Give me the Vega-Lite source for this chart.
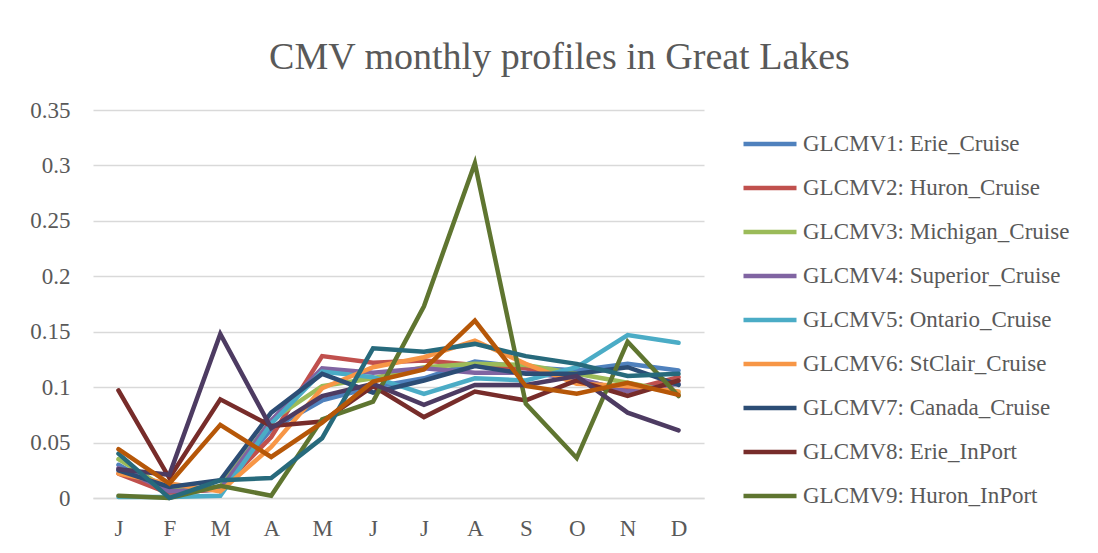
{
  "$schema": "https://vega.github.io/schema/vega-lite/v6.json",
  "width": 611,
  "height": 388,
  "autosize": {"type": "none"},
  "padding": {"left": 93, "top": 110, "right": 394, "bottom": 55},
  "background": "white",
  "title": {
    "text": "CMV monthly profiles in Great Lakes",
    "font": "Liberation Serif",
    "fontSize": 38,
    "fontWeight": "normal",
    "color": "#595959",
    "anchor": "middle",
    "dx": 161,
    "offset": 22
  },
  "data": {
    "values": [
      {"s": "GLCMV1: Erie_Cruise", "m": "Jan", "v": 0.030}, {"s": "GLCMV1: Erie_Cruise", "m": "Feb", "v": 0.004}, {"s": "GLCMV1: Erie_Cruise", "m": "Mar", "v": 0.008}, {"s": "GLCMV1: Erie_Cruise", "m": "Apr", "v": 0.062}, {"s": "GLCMV1: Erie_Cruise", "m": "May", "v": 0.088}, {"s": "GLCMV1: Erie_Cruise", "m": "Jun", "v": 0.100}, {"s": "GLCMV1: Erie_Cruise", "m": "Jul", "v": 0.108}, {"s": "GLCMV1: Erie_Cruise", "m": "Aug", "v": 0.123}, {"s": "GLCMV1: Erie_Cruise", "m": "Sep", "v": 0.118}, {"s": "GLCMV1: Erie_Cruise", "m": "Oct", "v": 0.115}, {"s": "GLCMV1: Erie_Cruise", "m": "Nov", "v": 0.121}, {"s": "GLCMV1: Erie_Cruise", "m": "Dec", "v": 0.115},
      {"s": "GLCMV2: Huron_Cruise", "m": "Jan", "v": 0.022}, {"s": "GLCMV2: Huron_Cruise", "m": "Feb", "v": 0.004}, {"s": "GLCMV2: Huron_Cruise", "m": "Mar", "v": 0.008}, {"s": "GLCMV2: Huron_Cruise", "m": "Apr", "v": 0.055}, {"s": "GLCMV2: Huron_Cruise", "m": "May", "v": 0.128}, {"s": "GLCMV2: Huron_Cruise", "m": "Jun", "v": 0.122}, {"s": "GLCMV2: Huron_Cruise", "m": "Jul", "v": 0.124}, {"s": "GLCMV2: Huron_Cruise", "m": "Aug", "v": 0.120}, {"s": "GLCMV2: Huron_Cruise", "m": "Sep", "v": 0.117}, {"s": "GLCMV2: Huron_Cruise", "m": "Oct", "v": 0.107}, {"s": "GLCMV2: Huron_Cruise", "m": "Nov", "v": 0.097}, {"s": "GLCMV2: Huron_Cruise", "m": "Dec", "v": 0.109},
      {"s": "GLCMV3: Michigan_Cruise", "m": "Jan", "v": 0.035}, {"s": "GLCMV3: Michigan_Cruise", "m": "Feb", "v": 0.007}, {"s": "GLCMV3: Michigan_Cruise", "m": "Mar", "v": 0.010}, {"s": "GLCMV3: Michigan_Cruise", "m": "Apr", "v": 0.070}, {"s": "GLCMV3: Michigan_Cruise", "m": "May", "v": 0.101}, {"s": "GLCMV3: Michigan_Cruise", "m": "Jun", "v": 0.108}, {"s": "GLCMV3: Michigan_Cruise", "m": "Jul", "v": 0.118}, {"s": "GLCMV3: Michigan_Cruise", "m": "Aug", "v": 0.121}, {"s": "GLCMV3: Michigan_Cruise", "m": "Sep", "v": 0.120}, {"s": "GLCMV3: Michigan_Cruise", "m": "Oct", "v": 0.112}, {"s": "GLCMV3: Michigan_Cruise", "m": "Nov", "v": 0.104}, {"s": "GLCMV3: Michigan_Cruise", "m": "Dec", "v": 0.095},
      {"s": "GLCMV4: Superior_Cruise", "m": "Jan", "v": 0.027}, {"s": "GLCMV4: Superior_Cruise", "m": "Feb", "v": 0.006}, {"s": "GLCMV4: Superior_Cruise", "m": "Mar", "v": 0.008}, {"s": "GLCMV4: Superior_Cruise", "m": "Apr", "v": 0.070}, {"s": "GLCMV4: Superior_Cruise", "m": "May", "v": 0.117}, {"s": "GLCMV4: Superior_Cruise", "m": "Jun", "v": 0.113}, {"s": "GLCMV4: Superior_Cruise", "m": "Jul", "v": 0.117}, {"s": "GLCMV4: Superior_Cruise", "m": "Aug", "v": 0.113}, {"s": "GLCMV4: Superior_Cruise", "m": "Sep", "v": 0.113}, {"s": "GLCMV4: Superior_Cruise", "m": "Oct", "v": 0.108}, {"s": "GLCMV4: Superior_Cruise", "m": "Nov", "v": 0.096}, {"s": "GLCMV4: Superior_Cruise", "m": "Dec", "v": 0.103},
      {"s": "GLCMV5: Ontario_Cruise", "m": "Jan", "v": 0.001}, {"s": "GLCMV5: Ontario_Cruise", "m": "Feb", "v": 0.001}, {"s": "GLCMV5: Ontario_Cruise", "m": "Mar", "v": 0.002}, {"s": "GLCMV5: Ontario_Cruise", "m": "Apr", "v": 0.067}, {"s": "GLCMV5: Ontario_Cruise", "m": "May", "v": 0.114}, {"s": "GLCMV5: Ontario_Cruise", "m": "Jun", "v": 0.109}, {"s": "GLCMV5: Ontario_Cruise", "m": "Jul", "v": 0.094}, {"s": "GLCMV5: Ontario_Cruise", "m": "Aug", "v": 0.108}, {"s": "GLCMV5: Ontario_Cruise", "m": "Sep", "v": 0.106}, {"s": "GLCMV5: Ontario_Cruise", "m": "Oct", "v": 0.118}, {"s": "GLCMV5: Ontario_Cruise", "m": "Nov", "v": 0.147}, {"s": "GLCMV5: Ontario_Cruise", "m": "Dec", "v": 0.140},
      {"s": "GLCMV6: StClair_Cruise", "m": "Jan", "v": 0.022}, {"s": "GLCMV6: StClair_Cruise", "m": "Feb", "v": 0.013}, {"s": "GLCMV6: StClair_Cruise", "m": "Mar", "v": 0.006}, {"s": "GLCMV6: StClair_Cruise", "m": "Apr", "v": 0.046}, {"s": "GLCMV6: StClair_Cruise", "m": "May", "v": 0.099}, {"s": "GLCMV6: StClair_Cruise", "m": "Jun", "v": 0.118}, {"s": "GLCMV6: StClair_Cruise", "m": "Jul", "v": 0.127}, {"s": "GLCMV6: StClair_Cruise", "m": "Aug", "v": 0.142}, {"s": "GLCMV6: StClair_Cruise", "m": "Sep", "v": 0.121}, {"s": "GLCMV6: StClair_Cruise", "m": "Oct", "v": 0.103}, {"s": "GLCMV6: StClair_Cruise", "m": "Nov", "v": 0.101}, {"s": "GLCMV6: StClair_Cruise", "m": "Dec", "v": 0.096},
      {"s": "GLCMV7: Canada_Cruise", "m": "Jan", "v": 0.025}, {"s": "GLCMV7: Canada_Cruise", "m": "Feb", "v": 0.010}, {"s": "GLCMV7: Canada_Cruise", "m": "Mar", "v": 0.016}, {"s": "GLCMV7: Canada_Cruise", "m": "Apr", "v": 0.077}, {"s": "GLCMV7: Canada_Cruise", "m": "May", "v": 0.112}, {"s": "GLCMV7: Canada_Cruise", "m": "Jun", "v": 0.095}, {"s": "GLCMV7: Canada_Cruise", "m": "Jul", "v": 0.106}, {"s": "GLCMV7: Canada_Cruise", "m": "Aug", "v": 0.119}, {"s": "GLCMV7: Canada_Cruise", "m": "Sep", "v": 0.112}, {"s": "GLCMV7: Canada_Cruise", "m": "Oct", "v": 0.112}, {"s": "GLCMV7: Canada_Cruise", "m": "Nov", "v": 0.118}, {"s": "GLCMV7: Canada_Cruise", "m": "Dec", "v": 0.102},
      {"s": "GLCMV8: Erie_InPort", "m": "Jan", "v": 0.097}, {"s": "GLCMV8: Erie_InPort", "m": "Feb", "v": 0.018}, {"s": "GLCMV8: Erie_InPort", "m": "Mar", "v": 0.089}, {"s": "GLCMV8: Erie_InPort", "m": "Apr", "v": 0.065}, {"s": "GLCMV8: Erie_InPort", "m": "May", "v": 0.069}, {"s": "GLCMV8: Erie_InPort", "m": "Jun", "v": 0.101}, {"s": "GLCMV8: Erie_InPort", "m": "Jul", "v": 0.073}, {"s": "GLCMV8: Erie_InPort", "m": "Aug", "v": 0.096}, {"s": "GLCMV8: Erie_InPort", "m": "Sep", "v": 0.088}, {"s": "GLCMV8: Erie_InPort", "m": "Oct", "v": 0.106}, {"s": "GLCMV8: Erie_InPort", "m": "Nov", "v": 0.092}, {"s": "GLCMV8: Erie_InPort", "m": "Dec", "v": 0.106},
      {"s": "GLCMV9: Huron_InPort", "m": "Jan", "v": 0.002}, {"s": "GLCMV9: Huron_InPort", "m": "Feb", "v": 0.000}, {"s": "GLCMV9: Huron_InPort", "m": "Mar", "v": 0.011}, {"s": "GLCMV9: Huron_InPort", "m": "Apr", "v": 0.002}, {"s": "GLCMV9: Huron_InPort", "m": "May", "v": 0.071}, {"s": "GLCMV9: Huron_InPort", "m": "Jun", "v": 0.087}, {"s": "GLCMV9: Huron_InPort", "m": "Jul", "v": 0.173}, {"s": "GLCMV9: Huron_InPort", "m": "Aug", "v": 0.302}, {"s": "GLCMV9: Huron_InPort", "m": "Sep", "v": 0.085}, {"s": "GLCMV9: Huron_InPort", "m": "Oct", "v": 0.036}, {"s": "GLCMV9: Huron_InPort", "m": "Nov", "v": 0.141}, {"s": "GLCMV9: Huron_InPort", "m": "Dec", "v": 0.092},
      {"s": "GLCMV10: Michigan_InPort", "m": "Jan", "v": 0.026}, {"s": "GLCMV10: Michigan_InPort", "m": "Feb", "v": 0.021}, {"s": "GLCMV10: Michigan_InPort", "m": "Mar", "v": 0.148}, {"s": "GLCMV10: Michigan_InPort", "m": "Apr", "v": 0.063}, {"s": "GLCMV10: Michigan_InPort", "m": "May", "v": 0.092}, {"s": "GLCMV10: Michigan_InPort", "m": "Jun", "v": 0.103}, {"s": "GLCMV10: Michigan_InPort", "m": "Jul", "v": 0.084}, {"s": "GLCMV10: Michigan_InPort", "m": "Aug", "v": 0.102}, {"s": "GLCMV10: Michigan_InPort", "m": "Sep", "v": 0.102}, {"s": "GLCMV10: Michigan_InPort", "m": "Oct", "v": 0.110}, {"s": "GLCMV10: Michigan_InPort", "m": "Nov", "v": 0.077}, {"s": "GLCMV10: Michigan_InPort", "m": "Dec", "v": 0.061},
      {"s": "GLCMV11: Superior_InPort", "m": "Jan", "v": 0.040}, {"s": "GLCMV11: Superior_InPort", "m": "Feb", "v": 0.000}, {"s": "GLCMV11: Superior_InPort", "m": "Mar", "v": 0.016}, {"s": "GLCMV11: Superior_InPort", "m": "Apr", "v": 0.018}, {"s": "GLCMV11: Superior_InPort", "m": "May", "v": 0.054}, {"s": "GLCMV11: Superior_InPort", "m": "Jun", "v": 0.135}, {"s": "GLCMV11: Superior_InPort", "m": "Jul", "v": 0.132}, {"s": "GLCMV11: Superior_InPort", "m": "Aug", "v": 0.139}, {"s": "GLCMV11: Superior_InPort", "m": "Sep", "v": 0.128}, {"s": "GLCMV11: Superior_InPort", "m": "Oct", "v": 0.121}, {"s": "GLCMV11: Superior_InPort", "m": "Nov", "v": 0.110}, {"s": "GLCMV11: Superior_InPort", "m": "Dec", "v": 0.112},
      {"s": "GLCMV12: Ontario_InPort", "m": "Jan", "v": 0.044}, {"s": "GLCMV12: Ontario_InPort", "m": "Feb", "v": 0.013}, {"s": "GLCMV12: Ontario_InPort", "m": "Mar", "v": 0.066}, {"s": "GLCMV12: Ontario_InPort", "m": "Apr", "v": 0.037}, {"s": "GLCMV12: Ontario_InPort", "m": "May", "v": 0.068}, {"s": "GLCMV12: Ontario_InPort", "m": "Jun", "v": 0.105}, {"s": "GLCMV12: Ontario_InPort", "m": "Jul", "v": 0.116}, {"s": "GLCMV12: Ontario_InPort", "m": "Aug", "v": 0.160}, {"s": "GLCMV12: Ontario_InPort", "m": "Sep", "v": 0.101}, {"s": "GLCMV12: Ontario_InPort", "m": "Oct", "v": 0.094}, {"s": "GLCMV12: Ontario_InPort", "m": "Nov", "v": 0.104}, {"s": "GLCMV12: Ontario_InPort", "m": "Dec", "v": 0.093}
    ]
  },
  "mark": {"type": "line", "strokeWidth": 4.5, "strokeCap": "round"},
  "encoding": {
    "x": {
      "field": "m",
      "type": "ordinal",
      "sort": ["Jan", "Feb", "Mar", "Apr", "May", "Jun", "Jul", "Aug", "Sep", "Oct", "Nov", "Dec"],
      "scale": {"type": "point", "padding": 0.5},
      "axis": {
        "title": null,
        "labelExpr": "substring(datum.label, 0, 1)",
        "labelFont": "Liberation Serif",
        "labelFontSize": 23,
        "labelColor": "#595959",
        "labelPadding": 19,
        "labelAngle": 0,
        "ticks": false,
        "domain": true,
        "domainColor": "#d9d9d9",
        "domainWidth": 1.5,
        "grid": false
      }
    },
    "y": {
      "field": "v",
      "type": "quantitative",
      "scale": {"domain": [0, 0.35], "nice": false, "zero": true},
      "axis": {
        "title": null,
        "values": [0, 0.05, 0.1, 0.15, 0.2, 0.25, 0.3, 0.35],
        "labelExpr": "datum.value == 0 ? '0' : format(datum.value, '.2~f')",
        "labelFont": "Liberation Serif",
        "labelFontSize": 23,
        "labelColor": "#595959",
        "labelPadding": 23,
        "ticks": false,
        "domain": false,
        "grid": true,
        "gridColor": "#d9d9d9",
        "gridWidth": 1.5
      }
    },
    "color": {
      "field": "s",
      "type": "nominal",
      "scale": {
        "domain": ["GLCMV1: Erie_Cruise", "GLCMV2: Huron_Cruise", "GLCMV3: Michigan_Cruise", "GLCMV4: Superior_Cruise", "GLCMV5: Ontario_Cruise", "GLCMV6: StClair_Cruise", "GLCMV7: Canada_Cruise", "GLCMV8: Erie_InPort", "GLCMV9: Huron_InPort", "GLCMV10: Michigan_InPort", "GLCMV11: Superior_InPort", "GLCMV12: Ontario_InPort"],
        "range": ["#4F81BD", "#C0504D", "#9BBB59", "#8064A2", "#4BACC6", "#F79646", "#2C4D75", "#772C2A", "#5F7530", "#4D3B62", "#276A7C", "#B65708"]
      },
      "legend": {
        "title": null,
        "values": ["GLCMV1: Erie_Cruise", "GLCMV2: Huron_Cruise", "GLCMV3: Michigan_Cruise", "GLCMV4: Superior_Cruise", "GLCMV5: Ontario_Cruise", "GLCMV6: StClair_Cruise", "GLCMV7: Canada_Cruise", "GLCMV8: Erie_InPort", "GLCMV9: Huron_InPort"],
        "orient": "none",
        "legendX": 648,
        "legendY": 5,
        "padding": 0,
        "symbolType": "stroke",
        "symbolSize": 2809,
        "symbolStrokeWidth": 4.5,
        "labelFont": "Liberation Serif",
        "labelFontSize": 23,
        "labelColor": "#595959",
        "labelOffset": 4,
        "labelLimit": 400,
        "rowPadding": 3
      }
    }
  },
  "config": {"view": {"stroke": null}}
}
